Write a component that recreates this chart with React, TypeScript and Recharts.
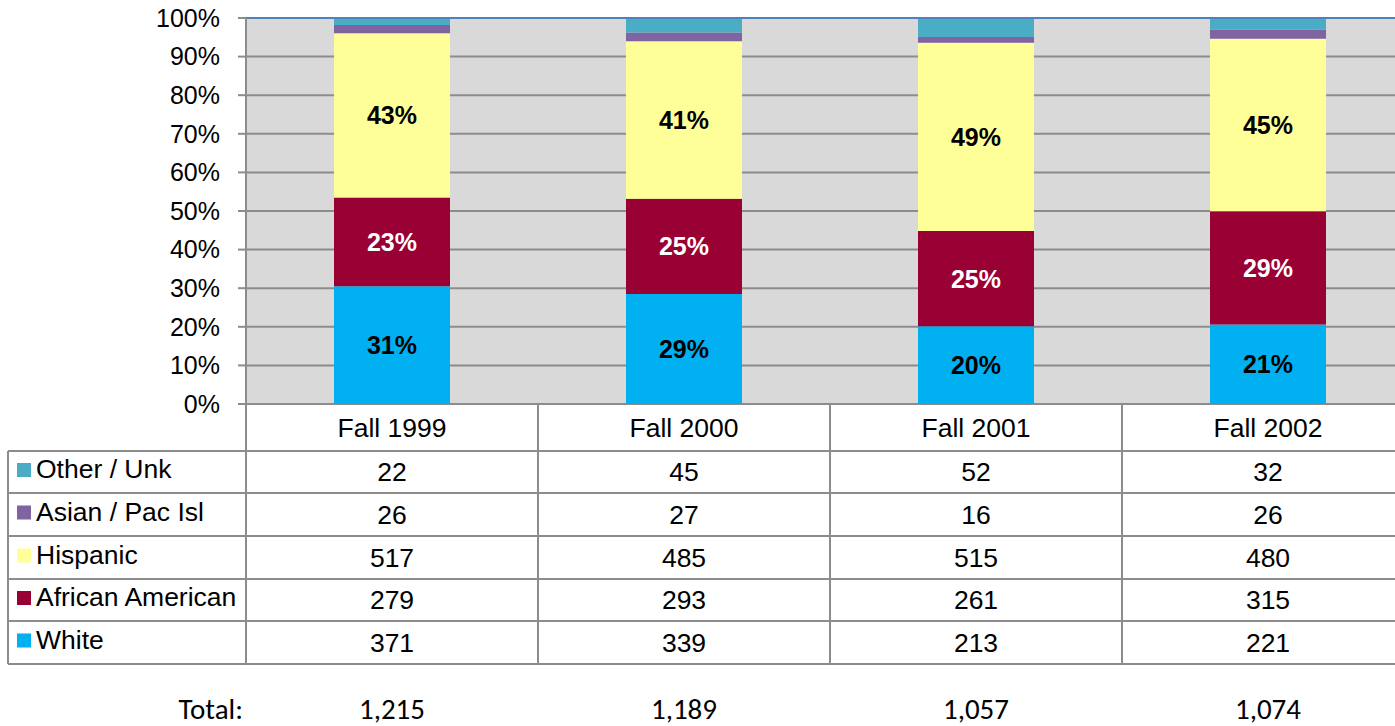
import React from 'react';
import { BarChart, Bar, XAxis, YAxis, CartesianGrid, ReferenceLine } from 'recharts';

const CATEGORIES = ['Fall 1999', 'Fall 2000', 'Fall 2001', 'Fall 2002'];
const WHITE = [371, 339, 213, 221];
const AFRICAN_AMERICAN = [279, 293, 261, 315];
const HISPANIC = [517, 485, 515, 480];
const ASIAN = [26, 27, 16, 26];
const OTHER = [22, 45, 52, 32];
const Y_TICKS = [0, 0.1, 0.2, 0.3, 0.4, 0.5, 0.6, 0.7, 0.8, 0.9, 1];

// table order (top to bottom)
const SERIES = [
  { key: 'other', name: 'Other / Unk', values: OTHER, color: '#4BACC6', label: null },
  { key: 'asian', name: 'Asian / Pac Isl', values: ASIAN, color: '#8064A2', label: null },
  { key: 'hispanic', name: 'Hispanic', values: HISPANIC, color: '#FFFF99', label: '#000000' },
  { key: 'african', name: 'African American', values: AFRICAN_AMERICAN, color: '#990033', label: '#FFFFFF' },
  { key: 'white', name: 'White', values: WHITE, color: '#00B0F0', label: '#000000' },
];

const TOTALS = CATEGORIES.map((_, i) => SERIES.reduce((s, se) => s + se.values[i], 0));

const data = CATEGORIES.map((c, i) => {
  const row: any = { category: c };
  SERIES.forEach((s) => (row[s.key] = s.values[i]));
  return row;
});

const FONT = '"Liberation Sans", Arial, sans-serif';
const TOTAL_FONT = 'Carlito, Lato, "Open Sans", sans-serif';
const GRID = '#8C8C8C';
const TABLE_FS = 26.5;
const TOTAL_FS = 29;

const HEADER_TOP = 404;
const ROW_LINES = [451, 493, 536, 579, 621, 664];
const TOTAL_Y = 709;
const HALF = 146;
const TABLE_LEFT = 8;

function ColumnTick(props: any) {
  const { x, payload, index } = props;
  const i = index;
  const last = i === CATEGORIES.length - 1;
  const left = x - HALF;
  const right = x + HALF;
  return (
    <g>
      {i === 0 && (
        <g>
          <line x1={TABLE_LEFT} x2={TABLE_LEFT} y1={ROW_LINES[0]} y2={ROW_LINES[5]} stroke={GRID} strokeWidth={2} />
          {ROW_LINES.map((y) => (
            <line key={'l' + y} x1={TABLE_LEFT} x2={left} y1={y} y2={y} stroke={GRID} strokeWidth={2} />
          ))}
          {SERIES.map((s, r) => {
            const cy = (ROW_LINES[r] + ROW_LINES[r + 1]) / 2;
            return (
              <g key={s.key}>
                <rect x={17} y={cy - 9} width={14} height={14} fill={s.color} />
                <text x={36} y={cy - 3} dominantBaseline="central" fontSize={TABLE_FS} fontFamily={FONT} fill="#000">
                  {s.name}
                </text>
              </g>
            );
          })}
          <text x={243} y={TOTAL_Y} dominantBaseline="central" textAnchor="end" fontSize={TOTAL_FS} fontFamily={TOTAL_FONT} fill="#000">
            Total:
          </text>
        </g>
      )}
      <line x1={left} x2={left} y1={HEADER_TOP} y2={ROW_LINES[5]} stroke={GRID} strokeWidth={2} />
      {last && <line x1={right} x2={right} y1={HEADER_TOP} y2={ROW_LINES[5]} stroke={GRID} strokeWidth={2} />}
      {ROW_LINES.map((y) => (
        <line key={y} x1={left} x2={right} y1={y} y2={y} stroke={GRID} strokeWidth={2} />
      ))}
      <text x={x} y={(HEADER_TOP + ROW_LINES[0]) / 2} dominantBaseline="central" textAnchor="middle" fontSize={TABLE_FS} fontFamily={FONT} fill="#000">
        {payload.value}
      </text>
      {SERIES.map((s, r) => (
        <text key={s.key} x={x} y={(ROW_LINES[r] + ROW_LINES[r + 1]) / 2} dominantBaseline="central" textAnchor="middle" fontSize={TABLE_FS} fontFamily={FONT} fill="#000">
          {s.values[i]}
        </text>
      ))}
      <text x={x} y={TOTAL_Y} dominantBaseline="central" textAnchor="middle" fontSize={TOTAL_FS} fontFamily={TOTAL_FONT} fill="#000">
        {TOTALS[i].toLocaleString('en-US')}
      </text>
    </g>
  );
}

function makeLabel(values: number[], color: string | null) {
  return (p: any) => {
    if (!color) return null;
    const { x, y, width, height, index } = p;
    const pct = Math.round((values[index] / TOTALS[index]) * 100);
    return (
      <text x={x + width / 2} y={y + height / 2} dominantBaseline="central" textAnchor="middle" fontSize={25} fontWeight="bold" fontFamily={FONT} fill={color}>
        {pct + '%'}
      </text>
    );
  };
}

export default function App() {
  const stackOrder = [...SERIES].reverse();
  return (
    <div style={{ position: 'absolute', left: 0, top: 0, width: 1395, height: 726, overflow: 'hidden', background: '#fff' }}>
      <BarChart width={1414} height={726} data={data} stackOffset="expand" margin={{ top: 18, right: 0, bottom: 0, left: 0 }}>
        <CartesianGrid vertical={false} stroke={GRID} strokeWidth={2} fill="#D9D9D9" />
        <XAxis dataKey="category" height={322} axisLine={false} tickLine={false} interval={0} tick={<ColumnTick />} />
        <YAxis
          width={246}
          domain={[0, 1]}
          ticks={Y_TICKS}
          tickFormatter={(v: number) => Math.round(v * 100) + '%'}
          axisLine={{ stroke: GRID, strokeWidth: 2 }}
          tickLine={{ stroke: GRID, strokeWidth: 2 }}
          tickSize={8}
          tickMargin={18}
          tick={{ fill: '#000', fontSize: 25, fontFamily: FONT }}
        />
        {stackOrder.map((s) => (
          <Bar key={s.key} dataKey={s.key} stackId="a" fill={s.color} barSize={116} isAnimationActive={false} label={makeLabel(s.values, s.label)} />
        ))}
        <ReferenceLine y={1} stroke="#4F81BD" strokeWidth={2} />
      </BarChart>
    </div>
  );
}
